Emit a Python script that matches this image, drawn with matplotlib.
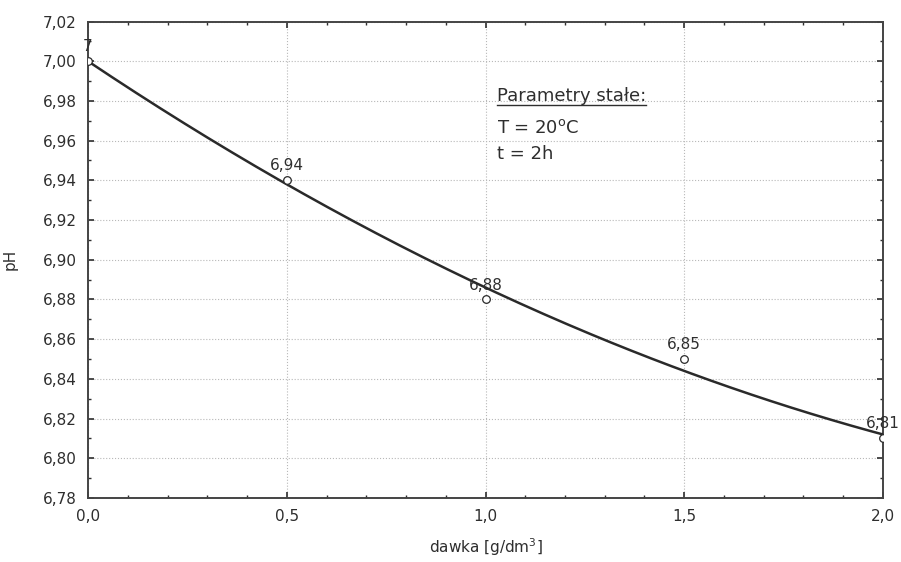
import matplotlib
matplotlib.use('Agg')
import matplotlib.pyplot as plt
from matplotlib.ticker import MultipleLocator, FuncFormatter
import numpy as np

# data
dawka = [0.0, 0.5, 1.0, 1.5, 2.0]
ph = [7.00, 6.94, 6.88, 6.85, 6.81]
param_lines = ['Parametry stałe:', 'T = 20$^{\\mathrm{o}}$C', 't = 2h']

plt.rcParams['font.family'] = 'DejaVu Sans'
plt.rcParams['font.size'] = 11
plt.rcParams['mathtext.fontset'] = 'custom'
plt.rcParams['mathtext.rm'] = 'DejaVu Sans'

dark = '#2e2e2e'

def comma(fmt):
    return FuncFormatter(lambda v, p: (fmt % v).replace('.', ','))

fig = plt.figure(figsize=(9.01, 5.62), dpi=100)
ax = fig.add_axes([0.0977, 0.1139, 0.8823, 0.8478])

# smooth fitted curve (quadratic)
coef = np.polyfit(dawka, ph, 2)
xs = np.linspace(0, 2, 200)
ax.plot(xs, np.polyval(coef, xs), color='#2a2a2a', lw=1.8, zorder=3)
ax.plot(dawka, ph, 'o', mfc='white', mec='#2a2a2a', ms=5.5, mew=0.9, zorder=4)

for x, y in zip(dawka, ph):
    lab = ('%g' % y).replace('.', ',')
    ax.annotate(lab, (x, y), xytext=(0, 5), textcoords='offset points',
                ha='center', va='bottom', color=dark, fontsize=11,
                annotation_clip=False, zorder=5)

ax.set_xlim(0, 2)
ax.set_ylim(6.78, 7.02)
ax.xaxis.set_major_locator(MultipleLocator(0.5))
ax.xaxis.set_minor_locator(MultipleLocator(0.1))
ax.yaxis.set_major_locator(MultipleLocator(0.02))
ax.yaxis.set_minor_locator(MultipleLocator(0.01))
ax.xaxis.set_major_formatter(comma('%.1f'))
ax.yaxis.set_major_formatter(comma('%.2f'))

ax.tick_params(which='both', direction='in', top=True, right=True, colors=dark,
               labelcolor=dark)
ax.tick_params(which='major', length=4, width=1.2, pad=8, labelsize=11)
ax.tick_params(which='minor', length=2, width=1.0)
for s in ax.spines.values():
    s.set_color('#444444')
    s.set_linewidth(1.4)

ax.grid(which='major', linestyle=':', color='#b8b8b8', lw=0.8)
ax.set_axisbelow(True)

ax.set_xlabel('dawka [g/dm$^3$]', color=dark, fontsize=11, labelpad=9)
ax.set_ylabel('pH', color=dark, fontsize=11, labelpad=18)

# parameter box
ys_txt = [6.9798, 6.9637, 6.9506]
txts = []
for t, yy in zip(param_lines, ys_txt):
    txts.append(ax.text(1.029, yy, t, ha='left', va='baseline', fontsize=13,
                        color=dark))

fig.canvas.draw()
bb = txts[0].get_window_extent().transformed(fig.transFigure.inverted())
base = ax.transData.transform((1.029, ys_txt[0]))
ul = fig.transFigure.inverted().transform((base[0], base[1] - 4))
fig.add_artist(plt.Line2D([bb.x0, bb.x1], [ul[1], ul[1]], color=dark, lw=1.0,
                          transform=fig.transFigure))

fig.savefig('out.png', dpi=100)
